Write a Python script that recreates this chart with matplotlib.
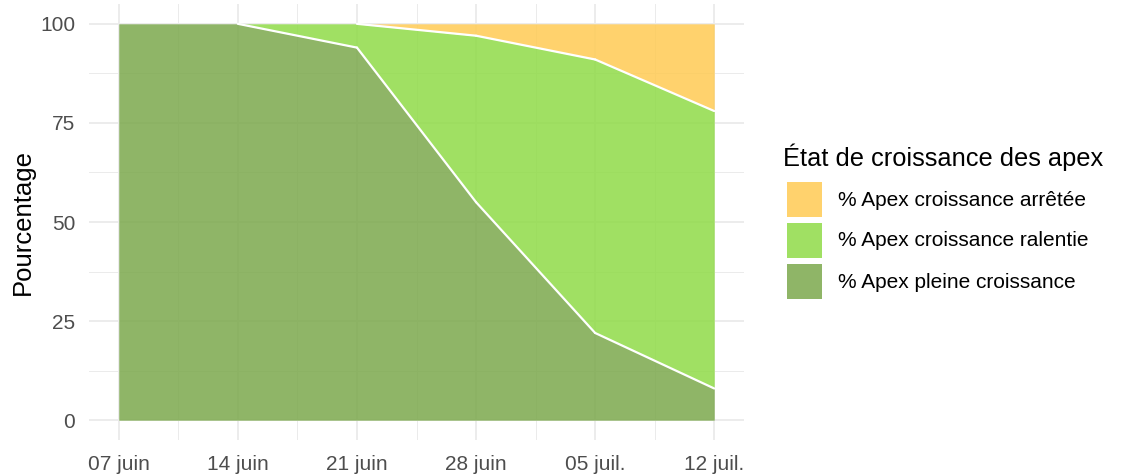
import matplotlib
matplotlib.use("Agg")
import matplotlib.pyplot as plt
from matplotlib.patches import Rectangle
import numpy as np

plt.rcParams['font.family'] = ['Liberation Sans', 'DejaVu Sans']

dates = np.array(['2023-06-07', '2023-06-14', '2023-06-21', '2023-06-28', '2023-07-05', '2023-07-12'], dtype='datetime64[D]')
tick_labels = ['07 juin', '14 juin', '21 juin', '28 juin', '05 juil.', '12 juil.']
pleine = [100, 100, 94, 55, 22, 8]
ralentie = [0, 0, 6, 42, 69, 70]
arretee = [0, 0, 0, 3, 9, 22]
series_labels = ['% Apex croissance arrêtée', '% Apex croissance ralentie', '% Apex pleine croissance']
colors = ['#FFCB54', '#90DB48', '#7BA84C']
legend_title = 'État de croissance des apex'
y_ticks = [0, 25, 50, 75, 100]

W, H = 1123, 476
fig = plt.figure(figsize=(W / 100, H / 100), dpi=100)
ax = fig.add_axes([89 / W, 1 - 440 / H, (744 - 89) / W, (440 - 4) / H])

x = dates.astype('datetime64[D]').astype(float)
p = np.array(pleine, float)
r = np.array(ralentie, float)
a = np.array(arretee, float)
s1 = p
s2 = p + r
s3 = p + r + a

alpha = 0.85
ax.fill_between(x, 0, s1, color=colors[2], alpha=alpha, lw=0, zorder=2)
ax.fill_between(x, s1, s2, color=colors[1], alpha=alpha, lw=0, zorder=2)
ax.fill_between(x, s2, s3, color=colors[0], alpha=alpha, lw=0, zorder=2)

def white_line(yv):
    for i in range(len(x) - 1):
        if yv[i] >= 100 and yv[i + 1] >= 100:
            continue
        ax.plot(x[i:i + 2], yv[i:i + 2], color='white', lw=1.6, zorder=3, solid_capstyle='round')

white_line(s1)
white_line(s2)

span = x[-1] - x[0]
ax.set_xlim(x[0] - 0.05 * span, x[-1] + 0.05 * span)
ax.set_ylim(-5, 105)
ax.set_xticks(x)
ax.set_xticklabels(tick_labels)
ax.set_yticks(y_ticks)
ax.set_xticks((x[:-1] + x[1:]) / 2, minor=True)
ax.set_yticks([12.5, 37.5, 62.5, 87.5], minor=True)
ax.grid(True, which='major', color='#EBEBEB', lw=1.3, zorder=0)
ax.grid(True, which='minor', color='#EBEBEB', lw=0.7, zorder=0)
ax.set_axisbelow(True)
for sp in ax.spines.values():
    sp.set_visible(False)
ax.tick_params(which='both', length=0)
ax.tick_params(axis='both', labelsize=15, labelcolor='#4D4D4D')
ax.tick_params(axis='x', pad=11)
ax.tick_params(axis='y', pad=10)
ax.set_ylabel('Pourcentage', fontsize=18.5, color='black', labelpad=4)

# legend
fig.text(783 / W, 1 - 157 / H, legend_title, fontsize=18.3, va='center', ha='left')
key_tops = [182, 223, 264]
for lab, col, kt in zip(series_labels, colors, key_tops):
    fig.patches.append(Rectangle((787 / W, 1 - (kt + 35) / H), 35 / W, 35 / H,
                                 transform=fig.transFigure, facecolor=col, alpha=alpha,
                                 edgecolor='none'))
    fig.text(838 / W, 1 - (kt + 18) / H, lab, fontsize=15, va='center', ha='left')

fig.savefig('out.png', dpi=100)
